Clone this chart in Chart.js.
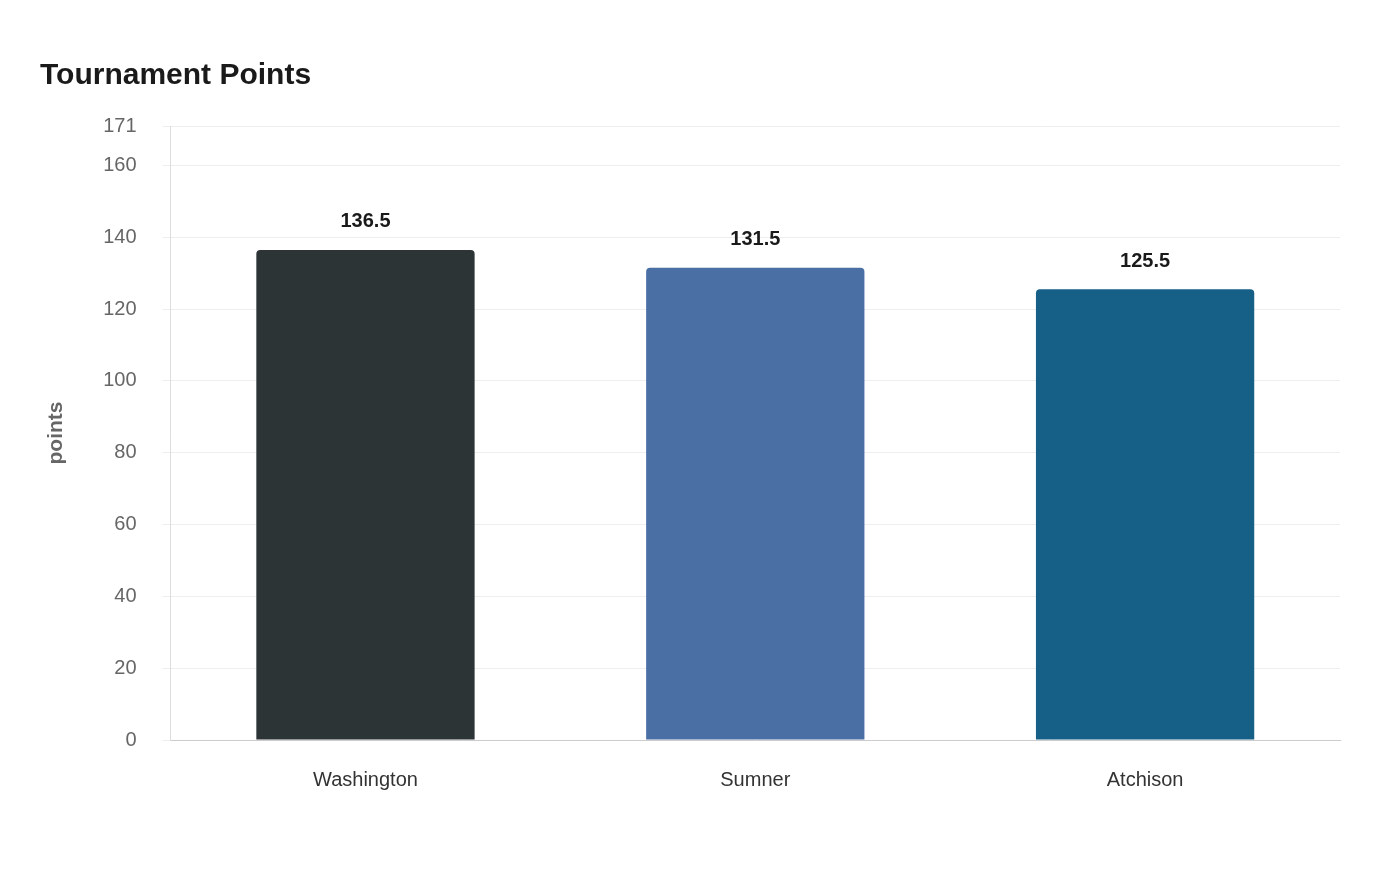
<!DOCTYPE html>
<html lang="en">
<head>
  <meta charset="UTF-8">
  <title>Tournament Points</title>
  <script src="https://cdn.jsdelivr.net/npm/chart.js"></script>
  <style>
    body { margin: 0; background: #fff; }
    #wrap { width: 1400px; height: 880px; }
  </style>
</head>
<body>
<div id="wrap"><canvas id="chart"></canvas></div>
<script>
  const categories = ['Washington', 'Sumner', 'Atchison'];
  const points = [136.5, 131.5, 125.5];
  const barColors = ['#2d3436', '#4a6fa5', '#166088'];
  const yMax = 171;

  // draws the value above each bar
  const valueLabels = {
    id: 'valueLabels',
    afterDatasetsDraw(chart) {
      const ctx = chart.ctx;
      ctx.save();
      ctx.font = 'bold 20px "Liberation Sans", Arial, sans-serif';
      ctx.fillStyle = '#1a1a1a';
      ctx.textAlign = 'center';
      ctx.textBaseline = 'bottom';
      chart.getDatasetMeta(0).data.forEach((bar, i) => {
        ctx.fillText(points[i], bar.x, bar.y - 18);
      });
      ctx.restore();
    }
  };

  new Chart(document.getElementById('chart'), {
    type: 'bar',
    data: {
      labels: categories,
      datasets: [{
        data: points,
        backgroundColor: barColors,
        borderRadius: { topLeft: 4, topRight: 4 },
        borderSkipped: 'bottom',
        barPercentage: 0.56,
        categoryPercentage: 1
      }]
    },
    options: {
      responsive: true,
      maintainAspectRatio: false,
      animation: false,
      layout: { padding: { left: 40, right: 60, top: 58, bottom: 68 } },
      plugins: {
        legend: { display: false },
        tooltip: { enabled: false },
        title: {
          display: true,
          text: 'Tournament Points',
          align: 'start',
          color: '#1a1a1a',
          font: { family: '"Liberation Sans", Arial, sans-serif', size: 30, weight: 'bold' },
          padding: { top: 0, bottom: 32 }
        }
      },
      scales: {
        x: {
          grid: { display: false },
          border: { color: '#cccccc' },
          ticks: {
            color: '#333333',
            padding: 20,
            font: { family: '"Liberation Sans", Arial, sans-serif', size: 20 }
          }
        },
        y: {
          min: 0,
          max: yMax,
          afterBuildTicks(scale) {
            const t = [];
            for (let v = 0; v <= 160; v += 20) t.push({ value: v });
            t.push({ value: yMax });
            scale.ticks = t;
          },
          grid: { color: '#eeeeee' },
          border: { color: '#dddddd' },
          ticks: {
            color: '#666666',
            padding: 26,
            font: { family: '"Liberation Sans", Arial, sans-serif', size: 20 }
          },
          title: {
            display: true,
            text: 'points',
            color: '#666666',
            padding: { bottom: 8 },
            font: { family: '"Liberation Sans", Arial, sans-serif', size: 21, weight: 'bold' }
          }
        }
      }
    },
    plugins: [valueLabels]
  });
</script>
</body>
</html>
